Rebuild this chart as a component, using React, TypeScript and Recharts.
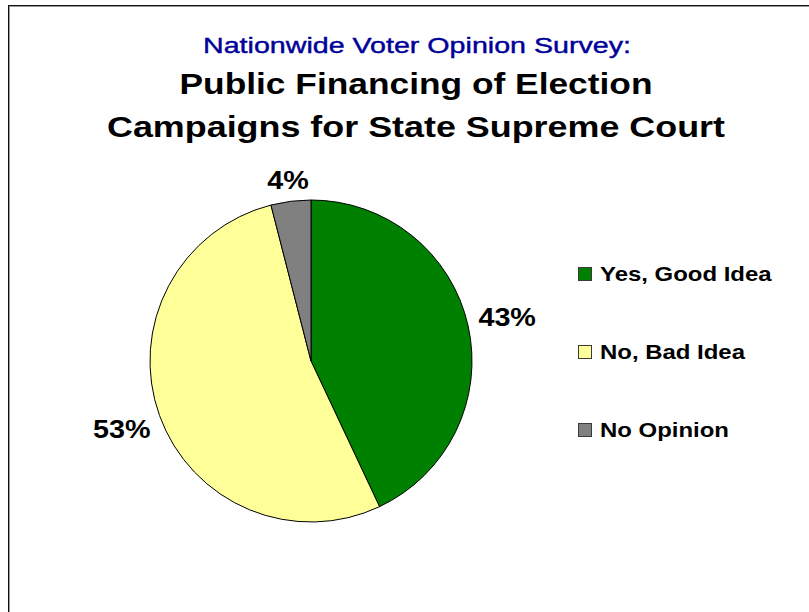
import { Cell, Legend, Pie, PieChart } from "recharts";

const categories = ["Yes, Good Idea", "No, Bad Idea", "No Opinion"];
const shares = [43, 53, 4];
const sliceColors = ["#008000", "#FFFF99", "#808080"];

const titleLines = [
  "Nationwide Voter Opinion Survey:",
  "Public Financing of Election",
  "Campaigns for State Supreme Court",
];

const FONT = "'Liberation Sans', Arial, Helvetica, sans-serif";
const LABEL_FONT = 25;
const RAD = Math.PI / 180;

const data = categories.map((name, i) => ({
  name,
  value: shares[i],
  fill: sliceColors[i],
}));

// the source picture is stretched sideways a bit, so text gets a textLength
function renderLabel(props: any) {
  const { cx, cy, midAngle, outerRadius, value } = props;
  const text = `${value}%`;
  const em = (text.length - 1) * 0.556 + 0.889;
  const w = em * LABEL_FONT * 1.15;
  const h = LABEL_FONT * 0.716;
  const cos = Math.cos(-midAngle * RAD);
  const sin = Math.sin(-midAngle * RAD);
  const r = outerRadius + 10 + (Math.abs(cos) * w) / 2 + (Math.abs(sin) * h) / 2;
  const x = cx + r * cos;
  const y = cy + r * sin;
  return (
    <text
      x={x}
      y={y + h / 2}
      textAnchor="middle"
      fontFamily={FONT}
      fontSize={LABEL_FONT}
      fontWeight={700}
      fill="#000"
      textLength={w}
      lengthAdjust="spacingAndGlyphs"
    >
      {text}
    </text>
  );
}

function LegendList(props: any) {
  // keep the data order, not the alphabetical one
  const payload = [...(props.payload || [])].sort(
    (a: any, b: any) => categories.indexOf(a.value) - categories.indexOf(b.value)
  );
  return (
    <div>
      {payload.map((entry: any) => (
        <div
          key={entry.value}
          style={{ height: 78, display: "flex", alignItems: "center" }}
        >
          <span
            style={{
              width: 12,
              height: 12,
              background: sliceColors[categories.indexOf(entry.value)] || entry.color,
              border: "1px solid #3a3a3a",
              display: "inline-block",
            }}
          />
          <span
            style={{
              marginLeft: 8,
              fontFamily: FONT,
              fontSize: 21,
              fontWeight: 700,
              color: "#000",
              whiteSpace: "nowrap",
              display: "inline-block",
              transform: "scaleX(1.14)",
              transformOrigin: "left center",
            }}
          >
            {entry.value}
          </span>
        </div>
      ))}
    </div>
  );
}

export default function App() {
  return (
    <div
      style={{
        position: "absolute",
        left: 0,
        top: 0,
        width: 809,
        height: 612,
        background: "#fff",
        overflow: "hidden",
      }}
    >
      <div
        style={{
          position: "absolute",
          left: 8,
          top: 5,
          width: 820,
          height: 620,
          borderTop: "1px solid #111",
          borderLeft: "1px solid #111",
          boxShadow: "inset 1px 1px 0 #9a9a9a",
        }}
      />
      <PieChart
        width={809}
        height={612}
        margin={{ top: 0, right: 0, bottom: 0, left: 0 }}
        style={{ position: "absolute", left: 0, top: 0 }}
      >
        <text
          x={417}
          y={53}
          textAnchor="middle"
          fontFamily={FONT}
          fontSize={22}
          fill="#000099"
          stroke="#000099"
          strokeWidth={0.4}
          textLength={428}
          lengthAdjust="spacingAndGlyphs"
        >
          {titleLines[0]}
        </text>
        <text
          x={416}
          y={94}
          textAnchor="middle"
          fontFamily={FONT}
          fontSize={29}
          fontWeight={700}
          fill="#000"
          textLength={473}
          lengthAdjust="spacingAndGlyphs"
        >
          {titleLines[1]}
        </text>
        <text
          x={416}
          y={137}
          textAnchor="middle"
          fontFamily={FONT}
          fontSize={29}
          fontWeight={700}
          fill="#000"
          textLength={618}
          lengthAdjust="spacingAndGlyphs"
        >
          {titleLines[2]}
        </text>
        <Pie
          data={data}
          dataKey="value"
          nameKey="name"
          cx={311}
          cy={361}
          outerRadius={161}
          startAngle={90}
          endAngle={-270}
          stroke="#000"
          strokeWidth={1}
          label={renderLabel}
          labelLine={false}
          isAnimationActive={false}
        >
          {data.map((d) => (
            <Cell key={d.name} fill={d.fill} />
          ))}
        </Pie>
        <Legend
          layout="vertical"
          align="right"
          verticalAlign="middle"
          itemSorter={null as any}
          content={<LegendList />}
          wrapperStyle={{
            left: 578,
            top: 235,
            right: "auto",
            bottom: "auto",
            width: 231,
          }}
        />
      </PieChart>
    </div>
  );
}
